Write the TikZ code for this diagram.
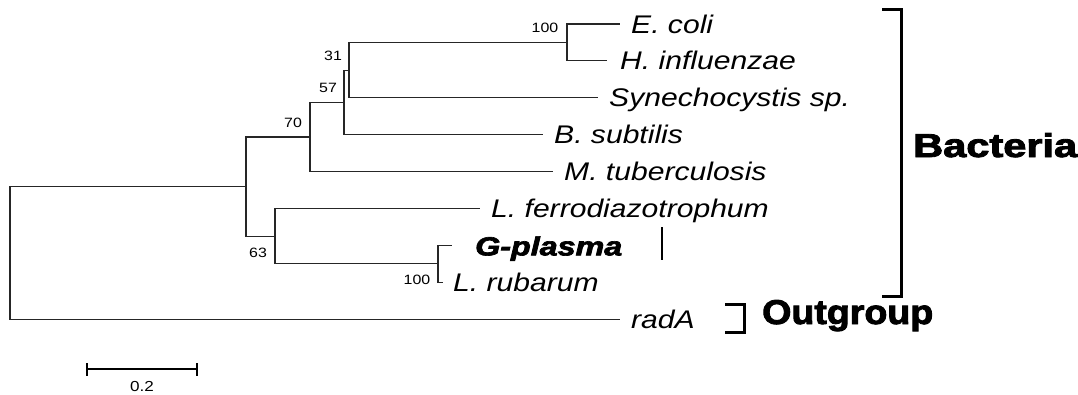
\documentclass[tikz,border=0pt]{standalone}
\usepackage{fontspec}
\setmainfont{Liberation Sans}
\newfontfamily\leaffont[FakeStretch=1.18]{Liberation Sans}
\newfontfamily\heavyfont[FakeBold=2.5]{Liberation Sans}
\begin{document}
\begin{tikzpicture}[x=1pt,y=-1pt,
  br/.style={line width=1.1pt,black!85},
  leaf/.style={anchor=base west,inner sep=0pt,font=\leaffont\itshape\fontsize{25.5}{28}\selectfont},
  boot/.style={inner sep=0pt,font=\leaffont\fontsize{13.5}{15}\selectfont},
  brk/.style={line width=3pt,line cap=butt}]
\useasboundingbox (0,0) rectangle (1078,394);
% internal nodes
\coordinate (n100t) at (567,42.45);
\coordinate (n31) at (349,70.1);
\coordinate (n57) at (344,102.4);
\coordinate (n70) at (310,137.0);
\coordinate (n100b) at (438,263.85);
\coordinate (n63) at (275,236.2);
\coordinate (nin) at (246,186.6);
\coordinate (root) at (10,252.9);
% leaf ends
\coordinate (E) at (620,24);
\coordinate (H) at (607,60.9);
\coordinate (S) at (598,97.8);
\coordinate (B) at (543,134.7);
\coordinate (M) at (553,171.6);
\coordinate (L) at (480,208.5);
\coordinate (G) at (452,245.4);
\coordinate (R) at (443,282.3);
\coordinate (A) at (620,319.2);
% branches
\draw[br] (n100t) |- (E);
\draw[br] (n100t) |- (H);
\draw[br] (n31) |- (n100t);
\draw[br] (n31) |- (S);
\draw[br] (n57) |- (n31);
\draw[br] (n57) |- (B);
\draw[br] (n70) |- (n57);
\draw[br] (n70) |- (M);
\draw[br] (nin) |- (n70);
\draw[br] (nin) |- (n63);
\draw[br] (n63) |- (L);
\draw[br] (n63) |- (n100b);
\draw[br] (n100b) |- (G);
\draw[br] (n100b) |- (R);
\draw[br] (root) |- (nin);
\draw[br] (root) |- (A);
% leaf labels
\node[leaf] (tE) at ([xshift=11pt,yshift=-9pt]E) {E. coli};
\node[leaf] (tH) at ([xshift=13pt,yshift=-9pt]H) {H. influenzae};
\node[leaf] (tS) at ([xshift=11pt,yshift=-9pt]S) {Synechocystis sp.};
\node[leaf] (tB) at ([xshift=11pt,yshift=-9pt]B) {B. subtilis};
\node[leaf] (tM) at ([xshift=11pt,yshift=-9pt]M) {M. tuberculosis};
\node[leaf] (tL) at ([xshift=11pt,yshift=-9pt]L) {L. ferrodiazotrophum};
\node[anchor=base west,inner sep=0pt] (tG) at ([xshift=23pt,yshift=-10pt]G) {\resizebox{147pt}{19pt}{\heavyfont\bfseries\itshape G-plasma}};
\node[leaf] (tR) at ([xshift=10pt,yshift=-9pt]R) {L. rubarum};
\node[leaf] (tA) at ([xshift=11pt,yshift=-9pt]A) {radA};
% bootstrap values
\node[boot] (b1) at (545,28) {100};
\node[boot] (b2) at (333,56) {31};
\node[boot] (b3) at (328,88) {57};
\node[boot] (b4) at (293,123) {70};
\node[boot] (b5) at (258,253) {63};
\node[boot] (b6) at (417,280) {100};
% G-plasma marker
\coordinate (gm1) at (662,227);
\coordinate (gm2) at (662,260);
\draw[line width=2pt] (gm1) -- (gm2);
% brackets
\coordinate (bt) at (882,9);
\coordinate (bb) at (882,296);
\draw[brk] (bt) -- ++(19.5,0) |- (bb);
\coordinate (ot) at (725,304);
\coordinate (ob) at (725,332);
\draw[brk] (ot) -- ++(19.5,0) |- (ob);
\node[anchor=base west,inner sep=0pt] (bac) at (913,157) {\resizebox{164pt}{24pt}{\heavyfont\bfseries Bacteria}};
\node[anchor=base west,inner sep=0pt] (out) at (762,324) {\resizebox{171pt}{24pt}{\heavyfont\bfseries Outgroup}};
% scale bar
\coordinate (s1) at (87,369);
\coordinate (s2) at (197,369);
\draw[line width=1.2pt] (s1) -- (s2);
\draw[line width=1.2pt] ([yshift=-6.5pt]s1) -- ([yshift=6.5pt]s1);
\draw[line width=1.2pt] ([yshift=-6.5pt]s2) -- ([yshift=6.5pt]s2);
\node[boot,font=\leaffont\fontsize{14.5}{16}\selectfont] (sc) at (142,387) {0.2};
\end{tikzpicture}
\end{document}
